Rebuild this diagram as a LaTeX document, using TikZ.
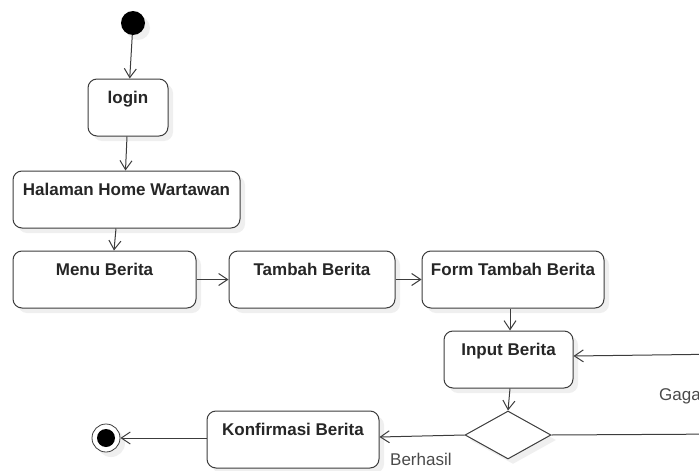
\documentclass[tikz,border=0pt]{standalone}
\usepackage{fontspec}
\setmainfont{Liberation Sans}
\usetikzlibrary{arrows.meta,shapes.geometric,shadows,calc}
\definecolor{edge}{HTML}{3C3C3C}
\definecolor{ink}{HTML}{262626}
\definecolor{guardink}{HTML}{4A4A4A}
\begin{document}
\begin{tikzpicture}[x=1pt,y=-1pt,
  softshadow/.style={drop shadow={opacity=0.13,shadow xshift=5pt,shadow yshift=-5pt}},
  act/.style={draw=edge, line width=1pt, rounded corners=9pt, fill=white,
    inner sep=0pt, minimum height=57pt, text height=24pt, text depth=33pt,
    font=\bfseries\fontsize{17}{20}\selectfont, text=ink, softshadow},
  flow/.style={draw=edge, line width=1pt, -{Straight Barb[length=9pt,width=12pt]}},
  guard/.style={font=\fontsize{17}{20}\selectfont, text=guardink, inner sep=0pt}
]
\useasboundingbox (0,0) rectangle (699,471);
\clip (0,0) rectangle (699,471);

% initial and final states
\node[circle, fill=black, minimum size=24pt, inner sep=0pt, softshadow] (start) at (133,23) {};
\node[circle, draw=edge, line width=0.8pt, fill=white, minimum size=28pt, inner sep=0pt, softshadow] (finish) at (106,438) {};
\node[circle, fill=black, minimum size=18pt, inner sep=0pt] (finishdot) at (106,438) {};

% activities
\node[act, minimum width=80pt]  (login)  at (128,107.5)   {login};
\node[act, minimum width=227pt] (home)   at (126.5,199.5) {Halaman Home Wartawan};
\node[act, minimum width=183pt] (menu)   at (104.5,279.5) {Menu Berita};
\node[act, minimum width=166pt] (tambah) at (312,279.5)   {Tambah Berita};
\node[act, minimum width=182pt] (form)   at (513,279.5)   {Form Tambah Berita};
\node[act, minimum width=129pt] (input)  at (508.5,359.5) {Input Berita};
\node[act, minimum width=172pt] (konf)   at (293,439.5)   {Konfirmasi Berita};

% decision
\node[diamond, draw=edge, line width=1pt, fill=white, inner sep=0pt,
  minimum width=86pt, minimum height=48pt, softshadow] (check) at (508,435) {};

% loop-back corner points beyond the right edge
\coordinate (gagalA) at (730,434);
\coordinate (gagalB) at (730,354);

% transitions
\draw[flow] (start) -- (login);
\draw[flow] ([xshift=-1pt]login.south) -- ([xshift=-1pt]home.north);
\draw[flow] ([xshift=-10.5pt]home.south) -- ([xshift=9.5pt]menu.north);
\draw[flow] (menu.east) -- (tambah.west);
\draw[flow] (tambah.east) -- (form.west);
\draw[flow] ([xshift=-3pt]form.south) -- ([xshift=1.5pt]input.north);
\draw[flow] ([xshift=1.5pt]input.south) -- (check.north);
\draw[flow] (check.west) -- ([yshift=2.5pt]konf.east);
\draw[flow] ([yshift=1.5pt]konf.west) -- (finish.east);
\draw[flow] (check.east) -- (gagalA) -- (gagalB) -- ([yshift=3.5pt]input.east);

% guards
\node[guard, anchor=base west] (berhasil) at (390,465) {Berhasil};
\node[guard, anchor=base west] (gagal) at (659,400) {Gagal};
\end{tikzpicture}
\end{document}
